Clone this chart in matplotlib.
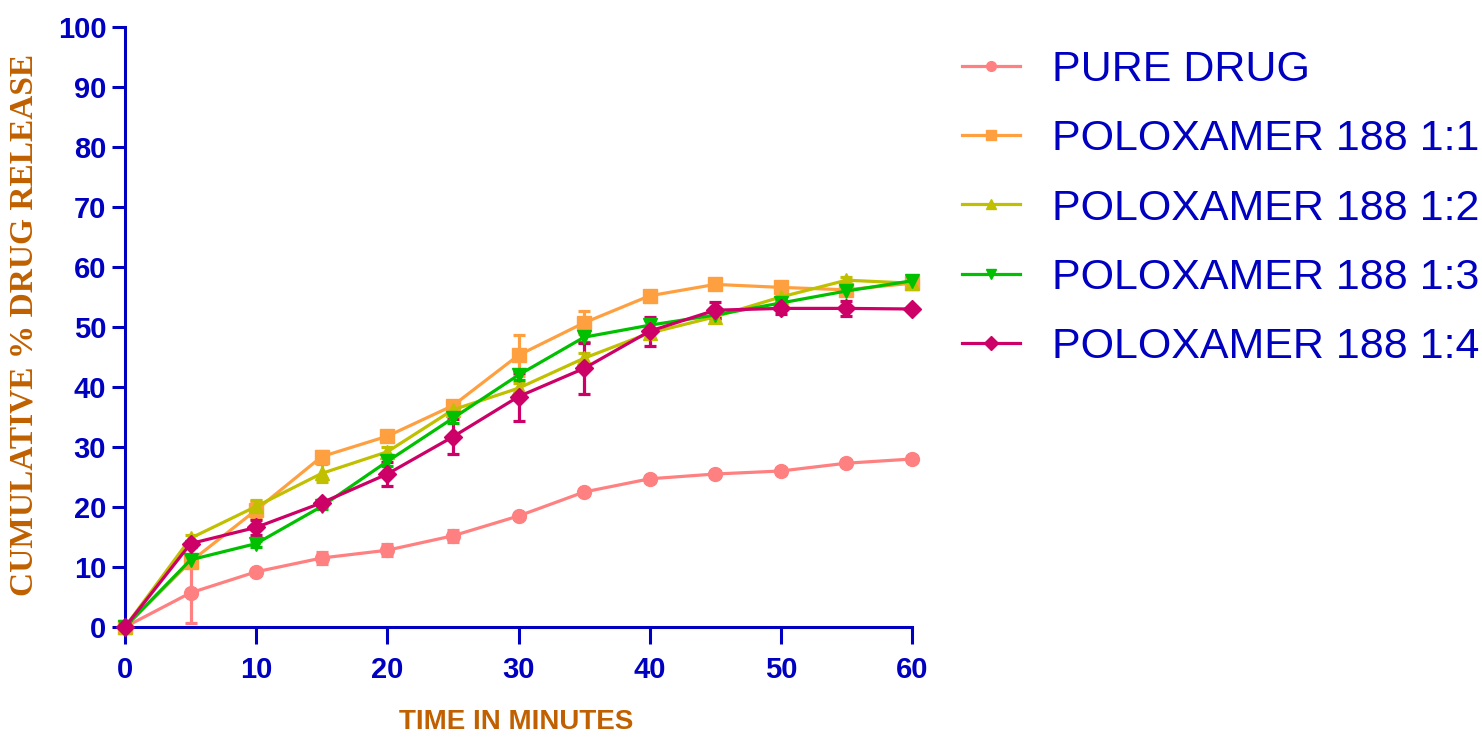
import matplotlib.pyplot as plt
from matplotlib.lines import Line2D

# time points (minutes)
time = [0, 5, 10, 15, 20, 25, 30, 35, 40, 45, 50, 55, 60]

pure_drug = [0, 5.7, 9.2, 11.5, 12.8, 15.2, 18.5, 22.5, 24.7, 25.5, 26.0, 27.3, 28.0]
pure_err = [0, 5.0, 0.5, 1.0, 1.0, 1.0, 0.5, 0.5, 0.5, 0.5, 0.5, 0.5, 0.5]

p188_11 = [0, 10.9, 19.5, 28.4, 31.8, 36.9, 45.3, 50.7, 55.2, 57.1, 56.6, 56.2, 57.3]
p188_11_err = [0, 0.5, 1.5, 1.0, 0.5, 0.5, 3.4, 1.9, 0.5, 0.5, 0.5, 0.5, 0.5]

p188_12 = [0, 14.8, 20.1, 25.6, 29.2, 36.2, 39.8, 44.8, 49.0, 51.7, 55.0, 57.8, 57.3]
p188_12_err = [0, 0.5, 1.0, 1.5, 0.8, 0.8, 0.8, 0.8, 0.8, 0.5, 0.5, 0.5, 0.5]

p188_13 = [0, 11.2, 13.9, 20.1, 27.6, 34.8, 42.0, 48.3, 50.3, 52.0, 54.0, 56.0, 57.7]
p188_13_err = [0, 0.5, 0.5, 0.5, 0.8, 0.8, 0.8, 0.8, 0.8, 0.5, 0.5, 0.5, 0.5]

p188_14 = [0, 13.9, 16.6, 20.7, 25.5, 31.7, 38.4, 43.1, 49.3, 52.8, 53.1, 53.1, 53.0]
p188_14_err = [0, 0.5, 1.2, 0.5, 2.0, 2.9, 4.0, 4.2, 2.4, 1.3, 1.0, 1.2, 0.3]

labels = ["PURE DRUG", "POLOXAMER 188 1:1", "POLOXAMER 188 1:2",
          "POLOXAMER 188 1:3", "POLOXAMER 188 1:4"]
colors = ["#FF8080", "#FFA040", "#C0C000", "#00C000", "#CC0066"]
markers = ["o", "s", "^", "v", "D"]
series = [(pure_drug, pure_err), (p188_11, p188_11_err), (p188_12, p188_12_err),
          (p188_13, p188_13_err), (p188_14, p188_14_err)]

BLUE = "#0000C0"
BROWN = "#C06000"

fig = plt.figure(figsize=(14.82, 7.38), dpi=100)
ax = fig.add_axes([125 / 1482, 1 - 627 / 738, 787 / 1482, 600 / 738])

for (vals, err), c, m in zip(series, colors, markers):
    ms = 10 if m != "D" else 9
    ax.errorbar(time, vals, yerr=err, color=c, marker=m, markersize=ms,
                linewidth=2.3, elinewidth=2.3, capsize=4.5, capthick=2.3,
                clip_on=False, zorder=3)

ax.set_xlim(0, 60)
ax.set_ylim(0, 100)
ax.set_xticks(range(0, 61, 10))
ax.set_yticks(range(0, 101, 10))

for side in ["top", "right"]:
    ax.spines[side].set_visible(False)
for side in ["left", "bottom"]:
    ax.spines[side].set_color(BLUE)
    ax.spines[side].set_linewidth(2.2)

ax.tick_params(axis="both", colors=BLUE, width=2.2, direction="out", labelsize=21)
ax.tick_params(axis="x", length=12, pad=9)
ax.tick_params(axis="y", length=9.5, pad=4)
for lab in ax.get_xticklabels() + ax.get_yticklabels():
    lab.set_fontweight("bold")
    lab.set_fontfamily("Liberation Sans")

ax.set_ylabel("CUMULATIVE % DRUG RELEASE", color=BROWN, fontsize=24,
              fontweight="bold", fontfamily="Liberation Serif")
ax.yaxis.set_label_coords(-0.128, 0.503)
ax.yaxis.label.set_va("center")

ax.set_xlabel("TIME IN MINUTES", color=BROWN, fontsize=20, fontweight="bold",
              fontfamily="Liberation Sans")
ax.xaxis.set_label_coords(0.4975, -0.158)
ax.xaxis.label.set_va("center")

handles = [Line2D([], [], color=c, marker=m, markersize=7, linewidth=2.3)
           for c, m in zip(colors, markers)]
leg = fig.legend(handles, labels, loc="upper left",
                 bbox_to_anchor=(962 / 1482, 1 - 50 / 738), frameon=False,
                 prop={"family": "Liberation Sans", "size": 31},
                 labelcolor=BLUE, handlelength=1.35, handletextpad=0.75,
                 labelspacing=0.68, borderpad=0, borderaxespad=0)

fig.savefig("out.png", dpi=100)
